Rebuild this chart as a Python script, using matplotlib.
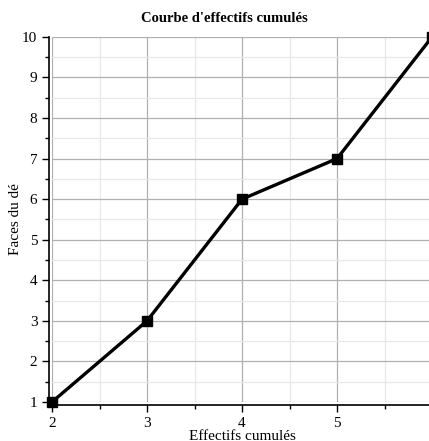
import numpy as np
import matplotlib
matplotlib.use("Agg")
import matplotlib.pyplot as plt
from matplotlib.ticker import MultipleLocator

# data
effectifs = [2, 3, 4, 5, 6]
faces = [1, 3, 6, 7, 10]

plt.rcParams['font.family'] = ['Liberation Serif', 'DejaVu Serif']

fig = plt.figure(figsize=(4.29, 4.41), dpi=100)
ax = fig.add_axes([0.1212, 0.0884, 0.886, 0.828])

ax.plot(effectifs, faces, color='black', lw=2.4, marker='s', ms=7, zorder=3,
        clip_on=False)

ax.set_xlim(2, 6)
ax.set_ylim(1, 10)
ax.xaxis.set_major_locator(MultipleLocator(1))
ax.xaxis.set_minor_locator(MultipleLocator(0.5))
ax.yaxis.set_major_locator(MultipleLocator(1))
ax.yaxis.set_minor_locator(MultipleLocator(0.5))

ax.grid(which='major', color='#b0b0b0', lw=0.9)
ax.grid(which='minor', color='#e8e8e8', lw=0.9)
ax.set_axisbelow(True)

for s in ['top', 'right']:
    ax.spines[s].set_visible(False)
for s in ['left', 'bottom']:
    ax.spines[s].set_position(('outward', 2))
    ax.spines[s].set_linewidth(1.2)

ax.tick_params(which='major', length=5, width=1, labelsize=11, direction='out')
ax.tick_params(which='minor', length=3, width=1, direction='out')

fig.text(224 / 429, 1 - 18 / 441, "Courbe d'effectifs cumulés", fontsize=10.5,
         fontweight='bold', ha='center', va='center')
ax.set_xlabel("Effectifs cumulés", fontsize=11, labelpad=0)
ax.set_ylabel("Faces du dé", fontsize=11, labelpad=0)

fig.savefig("out.png", dpi=100)
